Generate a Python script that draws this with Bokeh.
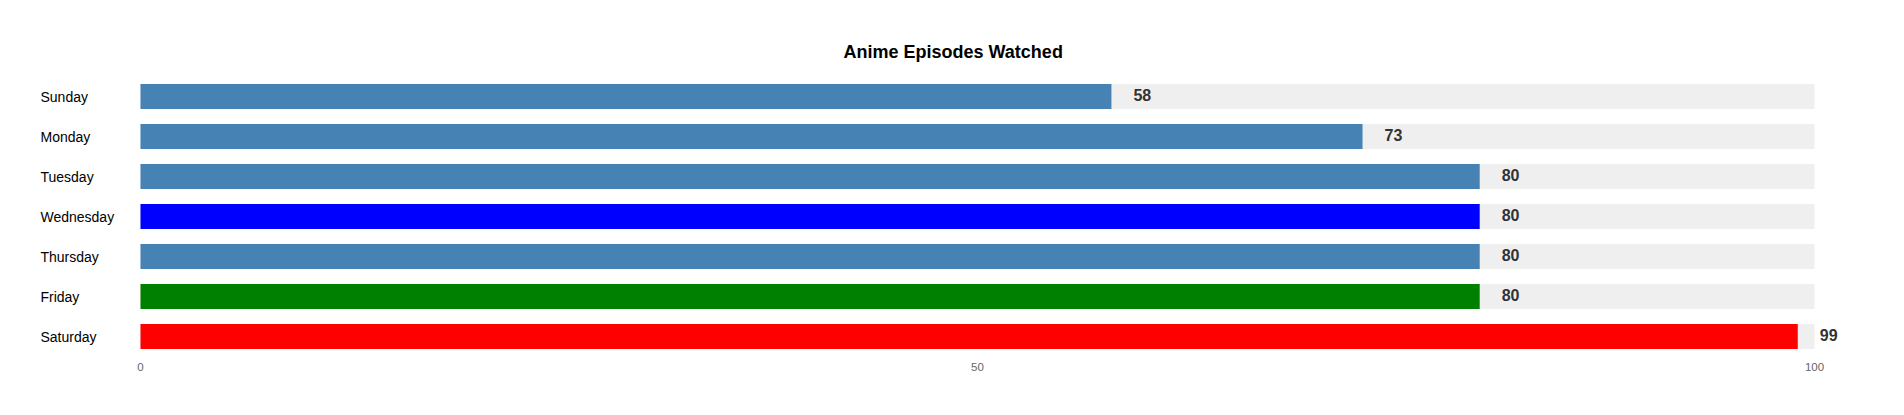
from bokeh.plotting import figure
from bokeh.models import ColumnDataSource, Range1d, FactorRange, FixedTicker, LabelSet
from bokeh.core.properties import value
from bokeh.embed import file_html
from bokeh.resources import INLINE

# ---- data ----
days = ["Sunday", "Monday", "Tuesday", "Wednesday", "Thursday", "Friday", "Saturday"]
episodes = [58, 73, 80, 80, 80, 80, 99]
bar_colors = ["#4682b4", "#4682b4", "#4682b4", "#0000ff", "#4682b4", "#008000", "#ff0000"]
max_value = 100
x_ticks = [0, 50, 100]
title_text = "Anime Episodes Watched"

source = ColumnDataSource(data=dict(
    day=days,
    value=episodes,
    color=bar_colors,
    full=[max_value] * len(days),
    zero=[0] * len(days),
    label=[str(v) for v in episodes],
))

# the frame is widened on both sides so that the day names (left) and
# value labels (right) are drawn inside it
p = figure(
    width=1904, height=415,
    y_range=FactorRange(factors=list(reversed(days)), range_padding=0),
    x_range=Range1d(-6.57, 102.15),
    output_backend="svg", toolbar_location=None,
    min_border_left=30, min_border_right=54,
    min_border_top=76, min_border_bottom=59,
    title=title_text,
)
p.outline_line_color = None
p.background_fill_color = "white"
p.border_fill_color = "white"
p.grid.visible = False
p.yaxis.visible = False

p.title.align = "left"
p.title.offset = 813
p.title.text_font = "Liberation Sans"
p.title.text_font_size = "18px"
p.title.text_font_style = "bold"
p.title.text_color = "#000000"
p.title.standoff = 30

# background track bars
p.hbar(y="day", left="zero", right="full", height=0.625, source=source,
       fill_color="#efefef", line_color=None)
# value bars
p.hbar(y="day", left="zero", right="value", height=0.625, source=source,
       fill_color="color", line_color=None)

# value labels
p.add_layout(LabelSet(x="value", y="day", text="label", source=source,
                      x_offset=22, y_offset=2, text_align="left", text_baseline="middle",
                      text_font=value("Liberation Sans"), text_font_size=value("16px"),
                      text_font_style="bold", text_color="#333333"))
# day labels (left aligned)
p.add_layout(LabelSet(x="zero", y="day", text="day", source=source,
                      x_offset=-100, text_align="left", text_baseline="middle",
                      text_font=value("Liberation Sans"), text_font_size=value("14px"),
                      text_color="#000000"))

ax = p.xaxis[0]
ax.ticker = FixedTicker(ticks=x_ticks)
ax.axis_line_color = None
ax.major_tick_line_color = None
ax.minor_tick_line_color = None
ax.major_tick_out = 0
ax.major_tick_in = 0
ax.major_label_standoff = 6
ax.major_label_text_font = "Liberation Sans"
ax.major_label_text_font_size = "11.5px"
ax.major_label_text_color = "#666666"

open("out.html", "w").write(file_html(p, INLINE))
